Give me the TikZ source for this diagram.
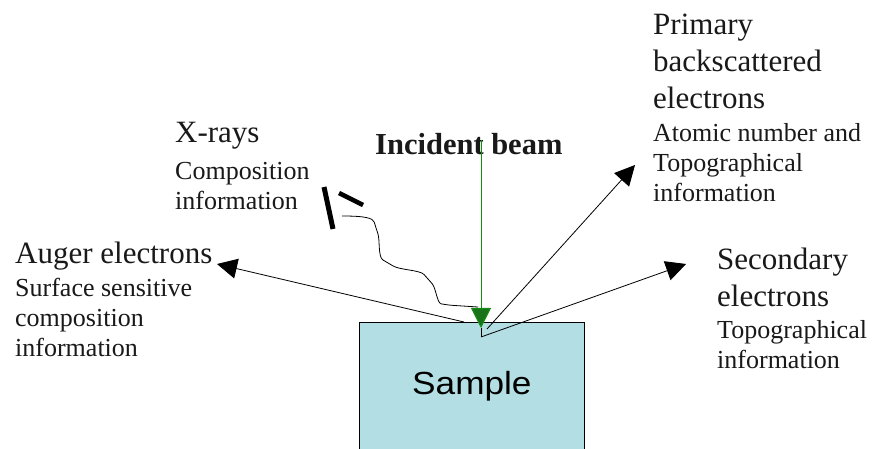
\documentclass[tikz,border=0pt]{standalone}
\usepackage{fontspec}
\setmainfont{Liberation Serif}
\newfontfamily\samplef{Liberation Sans}[FakeStretch=1.1]
\usetikzlibrary{arrows.meta}
\newcommand\hdtext{\rmfamily\fontsize{31}{37}\selectfont\spaceskip=0pt\xspaceskip=0pt\relax}
\newcommand\smtext{\rmfamily\fontsize{26}{30}\selectfont\spaceskip=0pt\xspaceskip=0pt\relax}
\definecolor{sampleblue}{RGB}{178,222,228}
\definecolor{beamgreen}{RGB}{20,140,20}
\definecolor{headgreen}{RGB}{25,115,25}
\definecolor{inktext}{RGB}{25,25,25}
\tikzset{
  lbl/.style={anchor=base west, inner sep=0pt, text width=250pt, align=left, text=inktext},
  emit/.style={line width=0.8pt, -{Triangle[length=20pt,width=20pt]}},
  beamline/.style={draw=beamgreen, line width=1pt, -{Triangle[length=20pt,width=20pt,fill=headgreen]}},
}
\begin{document}
\begin{tikzpicture}[x=1pt,y=-1pt]
\useasboundingbox (0,0) rectangle (876,449);
\fill[white] (0,0) rectangle (876,449);

% sample
\node[draw, fill=sampleblue, line width=0.8pt, anchor=north west, inner sep=0pt,
      minimum width=225pt, minimum height=128pt,
      font=\samplef\fontsize{32}{38}\selectfont] (sample) at (359,322) {Sample};

% labels
\node[lbl] (xray) at (175,143) {\hdtext X-rays\par\vspace{7pt}\smtext Composition\\information\par};
\node[lbl] (auger) at (15,264) {\hdtext Auger electrons\par\vspace{3pt}\smtext Surface sensitive\\composition\\information\par};
\node[lbl] (prim) at (653,35) {\hdtext Primary\\backscattered\\electrons\par\vspace{3pt}\smtext Atomic number and\\Topographical\\information\par};
\node[lbl] (sec) at (717,270) {\hdtext Secondary\\electrons\par\vspace{2pt}\smtext Topographical\\information\par};
\node[anchor=base west, inner sep=0pt, text=inktext, font=\rmfamily\bfseries\fontsize{30.5}{36}\selectfont] (beamlbl) at (375,155) {Incident beam};

% coordinates
\coordinate (beamtop) at (481,140);
\coordinate (hit) at (481,328);
\coordinate (below) at (481,337);
\coordinate (augerstart) at (464,322);
\coordinate (augertip) at (217,264);
\coordinate (primstart) at (487,329);
\coordinate (primtip) at (635,165);
\coordinate (sectip) at (686,264);

% incident beam
\draw[beamline] (beamtop) -- (hit);

% emitted
\draw[emit] (augerstart) -- (augertip);
\draw[emit] (primstart) -- (primtip);
\draw[line width=0.8pt] (hit) -- (below);
\draw[emit] (below) -- (sectip);

% x-rays wavy path
\draw[line width=0.8pt, rounded corners=6pt]
  (478,307) -- (447,305) .. controls (437,303) and (436,288) .. (428,279)
  .. controls (420,270) and (400,270) .. (388,263)
  .. controls (378,257) and (380,240) .. (376,228)
  .. controls (373,218) and (365,216) .. (342,216);
\draw[line width=5pt] (333,229) -- (324,187);
\draw[line width=4.5pt] (339,193) -- (363,205);
\end{tikzpicture}
\end{document}
